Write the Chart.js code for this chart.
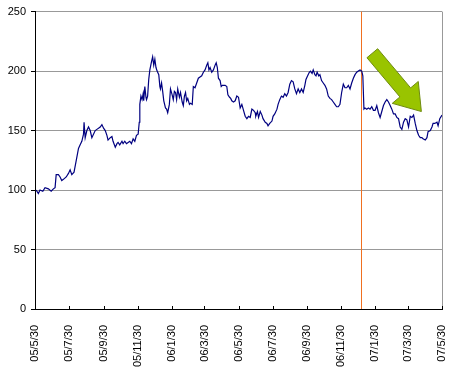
<!DOCTYPE html>
<html>
<head>
<meta charset="utf-8">
<script src="https://cdn.jsdelivr.net/npm/chart.js@4/dist/chart.umd.min.js"></script>
<style>
  html, body { margin: 0; padding: 0; background: #fff; }
  #wrap { width: 449px; height: 369px; position: relative; }
</style>
</head>
<body>
<div id="wrap"><canvas id="chart"></canvas></div>
<script>
// days since 05/5/30 and closing values
const days = [2, 6, 9, 14, 18, 24, 29, 33, 36, 38, 42, 45, 48, 51, 56, 60, 63, 66, 70, 74,
  78, 81, 84, 87, 88, 90, 93, 96, 99, 102, 108, 111, 117, 120, 123, 126, 129, 131, 135, 138,
  140, 144, 147, 149, 152, 156, 158, 161, 164, 167, 170, 173, 176, 179, 182, 185, 187, 188, 190, 192,
  194, 195, 197, 199, 200, 202, 204, 206, 209, 211, 213, 215, 217, 219, 222, 224, 225, 227, 229, 231,
  234, 236, 238, 241, 243, 246, 248, 250, 252, 254, 256, 259, 261, 264, 266, 268, 270, 272, 274, 277,
  279, 282, 284, 287, 290, 293, 296, 299, 302, 305, 308, 310, 312, 314, 317, 320, 323, 325, 327, 329,
  332, 334, 336, 339, 341, 344, 346, 349, 351, 353, 356, 359, 362, 365, 368, 371, 374, 377, 380, 383,
  386, 389, 392, 395, 396, 399, 401, 404, 407, 409, 413, 416, 418, 421, 425, 427, 430, 434, 436, 439,
  442, 445, 448, 451, 454, 457, 460, 463, 466, 469, 472, 475, 478, 481, 484, 486, 489, 492, 494, 497,
  499, 502, 504, 506, 509, 511, 514, 517, 520, 523, 526, 529, 532, 535, 538, 541, 544, 547, 550, 553,
  556, 559, 562, 565, 568, 571, 574, 577, 580, 583, 586, 588, 590, 592, 595, 598, 601, 604, 607, 610,
  613, 616, 619, 622, 625, 628, 631, 634, 637, 640, 643, 646, 649, 652, 655, 658, 661, 664, 667, 670,
  673, 676, 679, 682, 685, 688, 691, 694, 696, 700, 703, 705, 709, 712, 714, 717, 721, 723, 726, 730];

const values = [100, 97, 100, 99, 102, 101, 99, 101, 102, 113, 113, 111, 108, 109, 111, 114, 117, 113, 115, 125,
  135, 138, 141, 147, 157, 144, 150, 153, 150, 144, 150, 151, 153, 155, 152, 150, 146, 142, 144, 145,
  141, 136, 139, 140, 138, 141, 139, 141, 139, 140, 141, 139, 143, 141, 146, 147, 157, 172, 179, 176,
  181, 175, 187, 178, 176, 179, 193, 201, 208, 212, 205, 210, 203, 200, 197, 187, 185, 190, 183, 175,
  169, 168, 165, 172, 185, 180, 176, 183, 182, 176, 185, 178, 182, 174, 171, 179, 182, 175, 177, 172,
  173, 172, 187, 186, 190, 194, 195, 196, 199, 201, 205, 207, 201, 203, 199, 201, 205, 207, 203, 194,
  192, 187, 188, 188, 188, 187, 180, 178, 177, 175, 174, 175, 179, 178, 169, 172, 167, 162, 160, 162,
  161, 168, 167, 165, 162, 166, 161, 166, 163, 160, 157, 156, 154, 156, 158, 162, 164, 168, 172, 176,
  179, 178, 181, 179, 182, 189, 192, 191, 185, 181, 185, 182, 185, 182, 188, 193, 196, 199, 200, 198,
  201, 197, 196, 199, 196, 197, 192, 190, 188, 185, 179, 177, 176, 174, 172, 170, 170, 172, 182, 189,
  186, 186, 188, 185, 190, 194, 197, 199, 200, 201, 200, 196, 168, 169, 168, 169, 168, 170, 167, 167,
  171, 165, 161, 166, 171, 174, 176, 174, 171, 168, 164, 164, 161, 160, 153, 151, 157, 160, 159, 153,
  162, 161, 163, 156, 150, 146, 144, 144, 143, 142, 144, 149, 150, 153, 156, 156, 157, 154, 160, 163];

const tickDays = [0, 61, 123, 184, 245, 304, 365, 426, 488, 549, 610, 669, 730];
const tickLabels = ['05/5/30', '05/7/30', '05/9/30', '05/11/30', '06/1/30', '06/3/30', '06/5/30',
  '06/7/30', '06/9/30', '06/11/30', '07/1/30', '07/3/30', '07/5/30'];

const markerDay = 585;
// arrow annotation: tail and tip as [day, value]
const arrowTail = [605, 215];
const arrowTip = [693, 166];

Chart.defaults.font.family = "'Liberation Sans', Arial, sans-serif";
Chart.defaults.font.size = 11;
Chart.defaults.color = '#000';

const extras = {
  id: 'extras',
  beforeDatasetsDraw(chart) {
    const { ctx, chartArea: a, scales: { x } } = chart;
    ctx.save();
    // right border
    ctx.strokeStyle = '#999';
    ctx.lineWidth = 1;
    ctx.beginPath();
    ctx.moveTo(Math.round(a.right) + 0.5, a.top);
    ctx.lineTo(Math.round(a.right) + 0.5, a.bottom);
    ctx.stroke();
    // marker line
    const mx = Math.round(x.getPixelForValue(markerDay)) + 0.5;
    ctx.strokeStyle = '#F07020';
    ctx.beginPath();
    ctx.moveTo(mx, a.top);
    ctx.lineTo(mx, a.bottom);
    ctx.stroke();
    // inward x tick marks
    ctx.strokeStyle = '#000';
    tickDays.forEach(d => {
      const tx = Math.round(x.getPixelForValue(d)) + 0.5;
      ctx.beginPath();
      ctx.moveTo(tx, a.bottom);
      ctx.lineTo(tx, a.bottom - 3);
      ctx.stroke();
    });
    ctx.restore();
  },
  afterDatasetsDraw(chart) {
    const { ctx, scales: { x, y } } = chart;
    const x0 = x.getPixelForValue(arrowTail[0]), y0 = y.getPixelForValue(arrowTail[1]);
    const x1 = x.getPixelForValue(arrowTip[0]), y1 = y.getPixelForValue(arrowTip[1]);
    const len = Math.hypot(x1 - x0, y1 - y0);
    const ux = (x1 - x0) / len, uy = (y1 - y0) / len;
    const nx = -uy, ny = ux;
    const sw = 7, hw = 17, hl = 25;
    const bx = x1 - ux * hl, by = y1 - uy * hl;
    const pts = [
      [x0 + nx * sw, y0 + ny * sw],
      [bx + nx * sw, by + ny * sw],
      [bx + nx * hw, by + ny * hw],
      [x1, y1],
      [bx - nx * hw, by - ny * hw],
      [bx - nx * sw, by - ny * sw],
      [x0 - nx * sw, y0 - ny * sw]
    ];
    ctx.save();
    ctx.beginPath();
    pts.forEach((p, i) => i ? ctx.lineTo(p[0], p[1]) : ctx.moveTo(p[0], p[1]));
    ctx.closePath();
    ctx.fillStyle = '#99C400';
    ctx.fill();
    ctx.strokeStyle = '#6E8A10';
    ctx.lineWidth = 1;
    ctx.stroke();
    ctx.restore();
  }
};

new Chart(document.getElementById('chart'), {
  type: 'line',
  data: {
    datasets: [{
      data: days.map((d, i) => ({ x: d, y: values[i] })),
      borderColor: '#000080',
      borderWidth: 1.2,
      pointRadius: 0,
      tension: 0
    }]
  },
  options: {
    responsive: true,
    maintainAspectRatio: false,
    animation: false,
    layout: { padding: { top: 10, right: 7, left: 0, bottom: 0 } },
    plugins: { legend: { display: false }, tooltip: { enabled: false } },
    scales: {
      x: {
        type: 'linear',
        min: 0,
        max: 730,
        grid: { display: false },
        border: { color: '#000', width: 1 },
        afterBuildTicks: scale => { scale.ticks = tickDays.map(v => ({ value: v })); },
        afterFit: scale => { scale.height = 60; scale.paddingRight = 0; },
        ticks: {
          autoSkip: false,
          minRotation: 90,
          maxRotation: 90,
          padding: 8,
          callback: (v, i) => tickLabels[i]
        }
      },
      y: {
        min: 0,
        max: 250,
        afterFit: scale => { scale.width = 35; },
        grid: {
          color: ctx => ctx.tick && ctx.tick.value === 0 ? 'rgba(0,0,0,0)' : '#999',
          tickColor: '#000',
          tickLength: 4
        },
        border: { color: '#000', width: 1 },
        ticks: { stepSize: 50, padding: 5 }
      }
    }
  },
  plugins: [extras]
});
</script>
</body>
</html>
